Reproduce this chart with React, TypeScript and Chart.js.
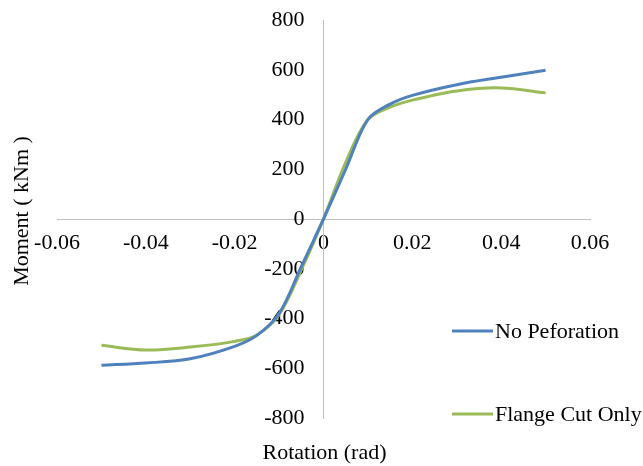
import React, { useEffect, useRef } from 'react';
import { Chart, registerables } from 'chart.js';

Chart.register(...registerables);

// Moment–rotation response of the two connection variants
const rotationNoPerforation = [-0.05, -0.04, -0.03, -0.02, -0.015, -0.01, -0.005, 0, 0.005, 0.01, 0.015, 0.02, 0.03, 0.04, 0.05];
const momentNoPerforation = [-588, -579, -562, -512, -468, -380, -192, 0, 200, 400, 462, 497, 540, 570, 598];

const rotationFlangeCut = [-0.05, -0.04, -0.03, -0.02, -0.015, -0.01, -0.005, 0, 0.005, 0.01, 0.015, 0.02, 0.03, 0.04, 0.05];
const momentFlangeCut = [-508, -527, -515, -492, -466, -385, -205, 0, 228, 400, 450, 478, 515, 527, 507];

const seriesNames = ['No Peforation', 'Flange Cut Only'];
const seriesColors = ['#4F81BD', '#9BBB59'];

const xRange = [-0.06, 0.06];
const xStep = 0.02;
const yRange = [-800, 800];
const yStep = 200;

const xTitle = 'Rotation (rad)';
const yTitle = 'Moment ( kNm )';

const FONT = '"Liberation Serif", "Times New Roman", serif';
const TEXT_SIZE = 22;
const AXIS_COLOR = '#BFBFBF';

const toPoints = (xs: number[], ys: number[]) => xs.map((x, i) => ({ x, y: ys[i] }));

const formatRotation = (v: number) => (Math.abs(v) < 1e-9 ? '0' : v.toFixed(2));

// Moment labels sit to the left of the vertical axis, which crosses at zero rotation
const momentLabels = {
  id: 'momentLabels',
  beforeDatasetsDraw(chart: any) {
    const { ctx, scales } = chart;
    const x0 = scales.x.getPixelForValue(0);
    ctx.save();
    ctx.font = `${TEXT_SIZE}px ${FONT}`;
    ctx.fillStyle = '#000';
    ctx.textAlign = 'right';
    ctx.textBaseline = 'middle';
    scales.y.ticks.forEach((t: any) => {
      ctx.fillText(String(Math.round(t.value)), x0 - 19, scales.y.getPixelForValue(t.value));
    });
    ctx.restore();
  },
};

// Axis titles and the stacked legend at the lower right
const annotations = {
  id: 'annotations',
  afterDraw(chart: any) {
    const { ctx, chartArea } = chart;
    ctx.save();
    ctx.font = `${TEXT_SIZE}px ${FONT}`;
    ctx.fillStyle = '#000';

    ctx.textAlign = 'center';
    ctx.textBaseline = 'middle';
    ctx.fillText(xTitle, (chartArea.left + chartArea.right) / 2 + 1, 453);

    ctx.save();
    ctx.translate(22, (chartArea.top + chartArea.bottom) / 2 - 8);
    ctx.rotate(-Math.PI / 2);
    ctx.fillText(yTitle, 0, 0);
    ctx.restore();

    const rows = [331, 414];
    chart.data.datasets.forEach((ds: any, i: number) => {
      const y = rows[i];
      ctx.strokeStyle = ds.borderColor;
      ctx.lineWidth = 3;
      ctx.beginPath();
      ctx.moveTo(452, y);
      ctx.lineTo(493, y);
      ctx.stroke();
      ctx.textAlign = 'left';
      ctx.textBaseline = 'middle';
      ctx.fillText(ds.label, 495, y + 1);
    });
    ctx.restore();
  },
};

export default function App() {
  const canvasRef = useRef<HTMLCanvasElement | null>(null);

  useEffect(() => {
    document.body.style.margin = '0';
    const canvas = canvasRef.current;
    if (!canvas) return;

    const chart = new Chart(canvas, {
      type: 'line',
      data: {
        datasets: [
          {
            label: seriesNames[0],
            data: toPoints(rotationNoPerforation, momentNoPerforation),
            borderColor: seriesColors[0],
            backgroundColor: seriesColors[0],
            borderWidth: 3,
            pointRadius: 0,
            tension: 0.33,
            fill: false,
          },
          {
            label: seriesNames[1],
            data: toPoints(rotationFlangeCut, momentFlangeCut),
            borderColor: seriesColors[1],
            backgroundColor: seriesColors[1],
            borderWidth: 3,
            pointRadius: 0,
            tension: 0.33,
            fill: false,
          },
        ],
      },
      options: {
        responsive: false,
        animation: false,
        devicePixelRatio: 1,
        layout: { padding: { left: 57, right: 53, top: 20, bottom: 48 } },
        plugins: {
          legend: { display: false },
          tooltip: { enabled: false },
        },
        scales: {
          x: {
            type: 'linear',
            position: { y: 0 } as any,
            min: xRange[0],
            max: xRange[1],
            grid: { display: false, drawTicks: false },
            border: { display: true, color: AXIS_COLOR, width: 1 },
            ticks: {
              stepSize: xStep,
              padding: 11,
              color: '#000',
              font: { family: FONT, size: TEXT_SIZE },
              maxRotation: 0,
              autoSkip: false,
              callback: (v: any) => formatRotation(Number(v)),
            },
          },
          y: {
            type: 'linear',
            position: { x: 0 } as any,
            min: yRange[0],
            max: yRange[1],
            grid: { display: false, drawTicks: false },
            border: { display: true, color: AXIS_COLOR, width: 1 },
            ticks: { stepSize: yStep, display: false },
          },
        },
      },
      plugins: [momentLabels, annotations],
    });

    return () => chart.destroy();
  }, []);

  return (
    <div style={{ position: 'absolute', left: 0, top: 0, width: 643, height: 466, background: '#fff' }}>
      <canvas ref={canvasRef} width={643} height={466} style={{ display: 'block' }} />
    </div>
  );
}
